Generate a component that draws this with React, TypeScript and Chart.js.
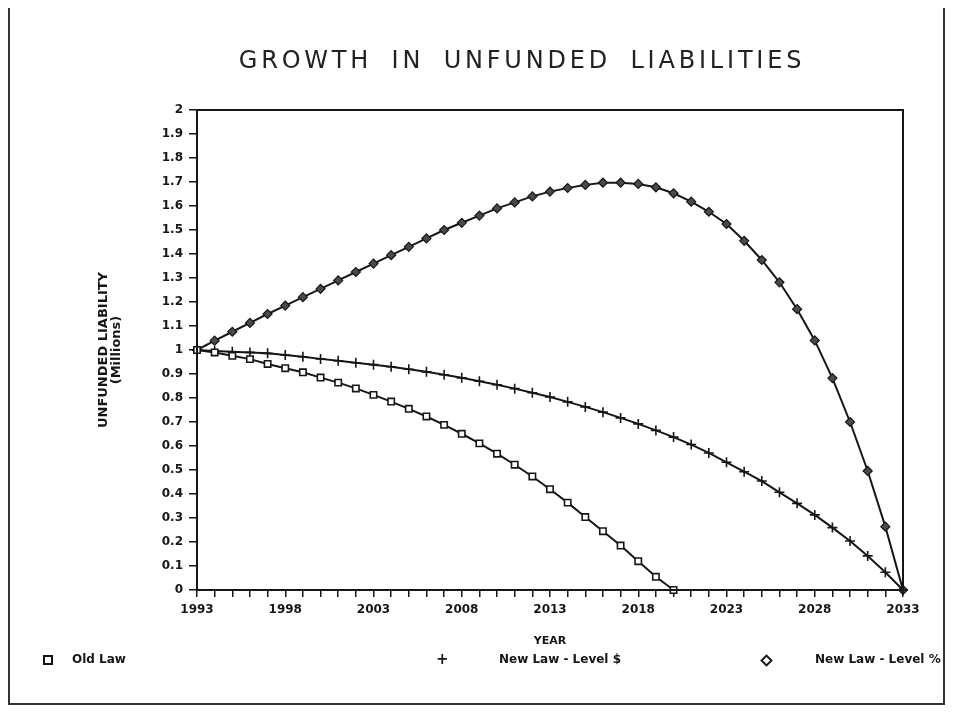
import React, { useEffect, useRef } from "react";
import { Chart, registerables } from "chart.js";

Chart.register(...registerables);

const years = [
  "1993", "1994", "1995", "1996", "1997", "1998", "1999", "2000", "2001", "2002",
  "2003", "2004", "2005", "2006", "2007", "2008", "2009", "2010", "2011", "2012",
  "2013", "2014", "2015", "2016", "2017", "2018", "2019", "2020", "2021", "2022",
  "2023", "2024", "2025", "2026", "2027", "2028", "2029", "2030", "2031", "2032",
  "2033",
];

const oldLaw = [
  1.0, 0.99, 0.976, 0.962, 0.942, 0.924, 0.907, 0.885, 0.864, 0.84,
  0.813, 0.785, 0.755, 0.723, 0.688, 0.651, 0.611, 0.568, 0.522, 0.473,
  0.42, 0.364, 0.304, 0.245, 0.185, 0.12, 0.055, 0.0,
];

const newLawLevelDollar = [
  1.0, 0.996, 0.993, 0.99, 0.986, 0.979, 0.972, 0.963, 0.955, 0.947,
  0.939, 0.93, 0.92, 0.909, 0.897, 0.884, 0.87, 0.855, 0.839, 0.822,
  0.804, 0.784, 0.763, 0.741, 0.717, 0.692, 0.665, 0.637, 0.606, 0.571,
  0.532, 0.493, 0.454, 0.407, 0.361, 0.313, 0.26, 0.204, 0.142, 0.074,
  0.0,
];

const newLawLevelPct = [
  1.0, 1.039, 1.076, 1.113, 1.15, 1.185, 1.22, 1.255, 1.29, 1.325,
  1.36, 1.395, 1.43, 1.465, 1.5, 1.53, 1.56, 1.59, 1.615, 1.64,
  1.66, 1.675, 1.688, 1.697, 1.697, 1.692, 1.678, 1.653, 1.618, 1.576,
  1.525, 1.455, 1.375, 1.282, 1.17, 1.04, 0.883, 0.7, 0.496, 0.264,
  0.0,
];

const seriesNames = ["Old Law", "New Law - Level $", "New Law - Level %"];
const chartTitle = "GROWTH IN UNFUNDED LIABILITIES";
const yAxisTitle = ["UNFUNDED LIABILITY", "(Millions)"];
const xAxisTitle = "YEAR";

const INK = "#161616";
const FONT = "'DejaVu Sans', sans-serif";

const framePlugin = {
  id: "frame",
  afterDraw(chart: any) {
    const { ctx, chartArea } = chart;
    const { left, top, right, bottom } = chartArea;
    ctx.save();
    ctx.strokeStyle = INK;
    ctx.lineWidth = 2;
    ctx.strokeRect(left, top, right - left, bottom - top);
    ctx.restore();
  },
};

export default function App() {
  const canvasRef = useRef<HTMLCanvasElement | null>(null);

  useEffect(() => {
    if (!canvasRef.current) return;
    const chart = new Chart(canvasRef.current, {
      type: "line",
      data: {
        labels: years,
        datasets: [
          {
            label: seriesNames[0],
            data: oldLaw,
            borderColor: INK,
            borderWidth: 2,
            pointStyle: "rect",
            pointRadius: 4.5,
            pointBackgroundColor: "#ffffff",
            pointBorderColor: INK,
            pointBorderWidth: 1.6,
            tension: 0,
            clip: false as any,
          },
          {
            label: seriesNames[1],
            data: newLawLevelDollar,
            borderColor: INK,
            borderWidth: 2,
            pointStyle: "cross",
            pointRadius: 5,
            pointBorderColor: INK,
            pointBorderWidth: 1.6,
            tension: 0,
            clip: false as any,
          },
          {
            label: seriesNames[2],
            data: newLawLevelPct,
            borderColor: INK,
            borderWidth: 2,
            pointStyle: "rectRot",
            pointRadius: 4.5,
            pointBackgroundColor: "#4a4a4a",
            pointBorderColor: INK,
            pointBorderWidth: 1.2,
            tension: 0,
            clip: false as any,
          },
        ],
      },
      options: {
        responsive: false,
        animation: false,
        devicePixelRatio: 1,
        layout: { padding: { left: 85, right: 42, top: 102, bottom: 57 } },
        plugins: {
          legend: { display: false },
          tooltip: { enabled: false },
          title: { display: false },
        },
        scales: {
          x: {
            type: "category",
            offset: false,
            grid: {
              display: true,
              drawOnChartArea: false,
              drawTicks: true,
              tickLength: 7,
              color: INK,
              lineWidth: 1.5,
            },
            border: { color: INK, width: 2 },
            ticks: {
              autoSkip: false,
              maxRotation: 0,
              padding: 6,
              color: INK,
              font: { family: FONT, size: 12, weight: "bold" },
              callback: (_v: any, i: number) => (i % 5 === 0 ? years[i] : ""),
            },
            title: {
              display: true,
              text: xAxisTitle,
              color: INK,
              font: { family: FONT, size: 11, weight: "bold" },
              padding: { top: 0, bottom: 0 },
            },
            afterFit: (scale: any) => {
              scale.height = 58;
            },
          },
          y: {
            min: 0,
            max: 2,
            grid: {
              display: true,
              drawOnChartArea: false,
              drawTicks: true,
              tickLength: 8,
              color: INK,
              lineWidth: 1.5,
            },
            border: { color: INK, width: 2 },
            ticks: {
              stepSize: 0.1,
              autoSkip: false,
              padding: 6,
              color: INK,
              font: { family: FONT, size: 12, weight: "bold" },
              callback: (v: any) => String(Number(Number(v).toFixed(1))),
            },
            title: {
              display: true,
              text: yAxisTitle,
              color: INK,
              font: { family: FONT, size: 13, weight: "bold", lineHeight: 1.0 },
              padding: { top: 4, bottom: 0 },
            },
            afterFit: (scale: any) => {
              scale.width = 104;
            },
          },
        },
      },
      plugins: [framePlugin],
    });
    return () => chart.destroy();
  }, []);

  const legendText: React.CSSProperties = {
    position: "absolute",
    top: 643,
    height: 16,
    lineHeight: "16px",
    fontFamily: FONT,
    fontWeight: "bold",
    fontSize: 12,
    color: INK,
    whiteSpace: "nowrap",
  };

  return (
    <div
      style={{
        position: "relative",
        width: 937,
        height: 697,
        boxSizing: "border-box",
        borderLeft: "2px solid #333",
        borderRight: "2px solid #333",
        borderBottom: "2px solid #333",
        background: "#fff",
      }}
    >
      <canvas
        ref={canvasRef}
        width={937}
        height={697}
        style={{ position: "absolute", left: -2, top: 0, width: 937, height: 697 }}
      />
      <div
        style={{
          position: "absolute",
          left: 512,
          top: 36,
          transform: "translateX(-50%)",
          fontFamily: FONT,
          fontSize: 24,
          lineHeight: "32px",
          letterSpacing: 3.8,
          wordSpacing: 8,
          color: "#222",
          whiteSpace: "nowrap",
        }}
      >
        {chartTitle}
      </div>
      {/* legend */}
      <div
        style={{
          position: "absolute",
          left: 33,
          top: 647,
          width: 6,
          height: 6,
          border: "2px solid " + INK,
        }}
      />
      <div style={{ ...legendText, left: 62 }}>{seriesNames[0]}</div>
      <div style={{ ...legendText, left: 426, fontSize: 15 }}>+</div>
      <div style={{ ...legendText, left: 489 }}>{seriesNames[1]}</div>
      <div
        style={{
          position: "absolute",
          left: 752,
          top: 648,
          width: 5,
          height: 5,
          border: "2px solid " + INK,
          transform: "rotate(45deg)",
        }}
      />
      <div style={{ ...legendText, left: 805 }}>{seriesNames[2]}</div>
    </div>
  );
}
